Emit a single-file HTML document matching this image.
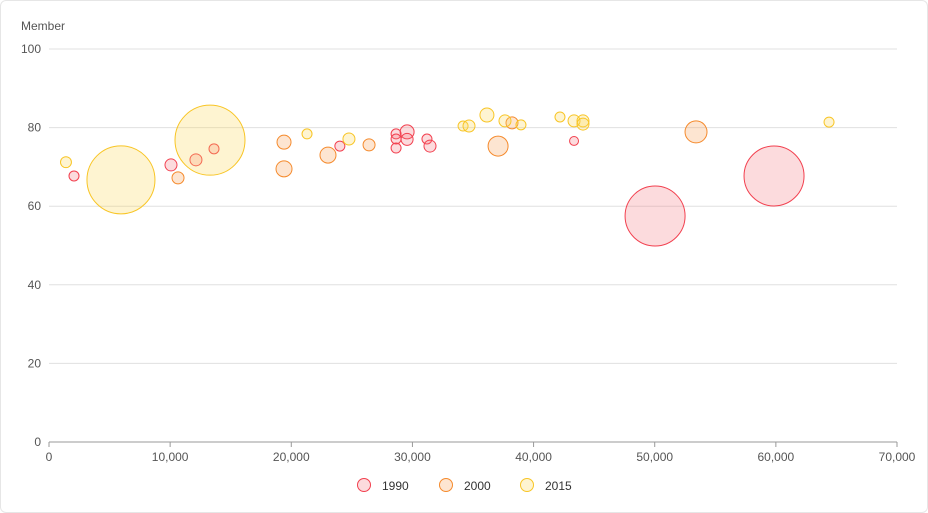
<!DOCTYPE html>
<html><head><meta charset="utf-8"><style>
body{margin:0;background:#fff;font-family:"Liberation Sans",sans-serif;}
#wrap{position:relative;width:926px;height:511px;border:1px solid #e6e6e6;border-radius:6px;overflow:hidden}
</style></head><body>
<div id="wrap">
<svg id="chart" width="926" height="511"></svg>
</div>
<script>
const seriesNames=["1990","2000","2015"];
const xs1990=[2064,10070,12130,13620,24010,28650,28650,28650,29560,29560,31200,31450,43340,50030,59850];
const ys1990=[67.7,70.5,71.8,74.6,75.3,78.4,77.1,74.8,78.9,77.0,77.1,75.3,76.6,57.5,67.7];
const sz1990=[25,36,36,25,25,25,25,25,49,36,25,36,20,900,900];
const xs2000=[10650,19400,19400,23030,26420,37070,38220,53410];
const ys2000=[67.2,76.3,69.5,73.0,75.6,75.3,81.2,78.9];
const sz2000=[36,49,64,64,36,100,36,121];
const xs2015=[1400,5940,13290,21300,24760,34180,34670,36150,37640,38960,42180,43340,44080,44080,64390];
const ys2015=[71.2,66.7,76.8,78.4,77.1,80.4,80.4,83.2,81.7,80.7,82.7,81.7,81.7,80.9,81.4];
const sz2015=[30,1156,1225,25,36,25,36,49,36,25,25,36,36,36,25];
const xTicks=[0,10000,20000,30000,40000,50000,60000,70000];
const yTicks=[0,20,40,60,80,100];

const NS="http://www.w3.org/2000/svg";
const svg=document.getElementById('chart');
const X0=48,X1=896,Y0=441,Y1=48;
const xS=v=>X0+v/70000*(X1-X0);
const yS=v=>Y0-v/100*(Y0-Y1);
function mk(t,a){const e=document.createElementNS(NS,t);for(const k in a)e.setAttribute(k,a[k]);svg.appendChild(e);return e;}
const fmt=v=>v.toLocaleString('en-US');
yTicks.forEach(t=>{
 const l=mk('line',{x1:X0,x2:X1,y1:yS(t),y2:yS(t),stroke:t===0?'#999':'#e0e0e0','stroke-width':1});
 
 
 const tx=mk('text',{x:X0-8,y:yS(t)+4,'text-anchor':'end','font-size':12,fill:'#555'});
 tx.textContent=t;
 
 
});
xTicks.forEach(t=>{
 const l=mk('line',{x1:xS(t),x2:xS(t),y1:Y0,y2:Y0+5,stroke:'#999'});
 
 
 const tx=mk('text',{x:xS(t),y:Y0+19,'text-anchor':'middle','font-size':12,fill:'#555'});
 tx.textContent=fmt(t);
 
 
});
const yt=mk('text',{x:20,y:29,'font-size':12,fill:'#555'});
yt.textContent='Member';


const styles=[{s:'#f2404f',f:'rgba(245,110,120,0.25)'},{s:'#f58a2c',f:'rgba(248,160,90,0.28)'},{s:'#f8c525',f:'rgba(252,214,90,0.28)'}];
const data=[[xs1990,ys1990,sz1990],[xs2000,ys2000,sz2000],[xs2015,ys2015,sz2015]];
data.forEach((d,si)=>{
 d[0].forEach((x,i)=>{
  const c=mk('circle',{cx:xS(x),cy:yS(d[1][i]),r:Math.sqrt(d[2][i]),fill:styles[si].f,stroke:styles[si].s,'stroke-width':1});
  
  
 });
});
const lx=[363,445,526];
seriesNames.forEach((n,i)=>{
 const c=mk('circle',{cx:lx[i],cy:484,r:6.5,fill:styles[i].f,stroke:styles[i].s});
 
 
 const t=mk('text',{x:lx[i]+18,y:489,'font-size':12,fill:'#333'});
 t.textContent=n;
 
 
});
</script>
</body></html>
